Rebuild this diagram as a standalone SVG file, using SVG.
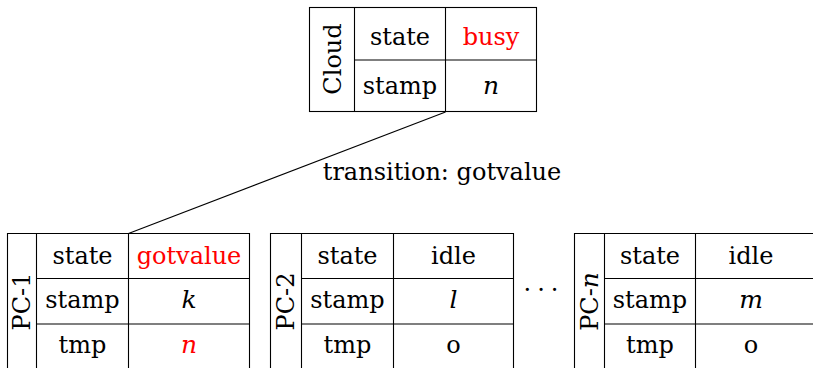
<svg xmlns="http://www.w3.org/2000/svg" width="813" height="368" viewBox="0 0 813 368">
<style>
text{font-family:"DejaVu Serif","Liberation Serif",serif;font-size:24px;fill:#000;text-anchor:middle}
.r{fill:#ff0000}
.i{font-style:italic;font-size:25px}
.g{fill:none;stroke:#000;stroke-width:1.1}
.c{stroke:#000;stroke-width:1.1;fill:none}
</style>
<rect width="813" height="368" fill="#fff"/>
<g id="cloud">
<rect class="g" x="309.5" y="7.5" width="227" height="104"/>
<path class="g" d="M354.5 7.5V111.5M445.5 7.5V111.5M354.5 60H536.5"/>
<text transform="translate(340.5 59) rotate(-90)">Cloud</text>
<text x="400" y="45">state</text>
<text x="491" y="45" class="r">busy</text>
<text x="400" y="94">stamp</text>
<text x="491" y="94" class="i">n</text>
</g>
<g id="pc1">
<path class="g" d="M7.5 370V233.5H249.5V370M36.5 233.5V370M128.5 233.5V370M36.5 278.5H249.5M36.5 324H249.5"/>
<text transform="translate(30 301.5) rotate(-90)">PC-1</text>
<text x="82.5" y="264">state</text>
<text x="189" y="264" class="r">gotvalue</text>
<text x="82.5" y="308">stamp</text>
<text x="189" y="308" class="i">k</text>
<text x="82.5" y="353">tmp</text>
<text x="189" y="353" class="i r">n</text>
</g>
<g id="pc2">
<path class="g" d="M270.5 370V233.5H513.5V370M301.5 233.5V370M393.5 233.5V370M301.5 278.5H513.5M301.5 324H513.5"/>
<text transform="translate(293.5 301.5) rotate(-90)">PC-2</text>
<text x="347.5" y="264">state</text>
<text x="453.5" y="264">idle</text>
<text x="347.5" y="308">stamp</text>
<text x="453.5" y="308" class="i">l</text>
<text x="347.5" y="353">tmp</text>
<text x="453.5" y="353">o</text>
</g>
<text id="dots" x="544" y="291" letter-spacing="6">...</text>
<g id="pcn">
<path class="g" d="M574.5 370V233.5H820M604.5 233.5V370M695.5 233.5V370M604.5 278.5H820M604.5 324H820"/>
<text transform="translate(597.5 301.5) rotate(-90)">PC-<tspan class="i">n</tspan></text>
<text x="650" y="264">state</text>
<text x="751" y="264">idle</text>
<text x="650" y="308">stamp</text>
<text x="751" y="308" class="i">m</text>
<text x="650" y="353">tmp</text>
<text x="751" y="353">o</text>
</g>
<g id="connectors">
<line class="c" x1="445.5" y1="112" x2="128.5" y2="233.5"/>
<text x="442" y="180">transition: gotvalue</text>
</g>
</svg>
